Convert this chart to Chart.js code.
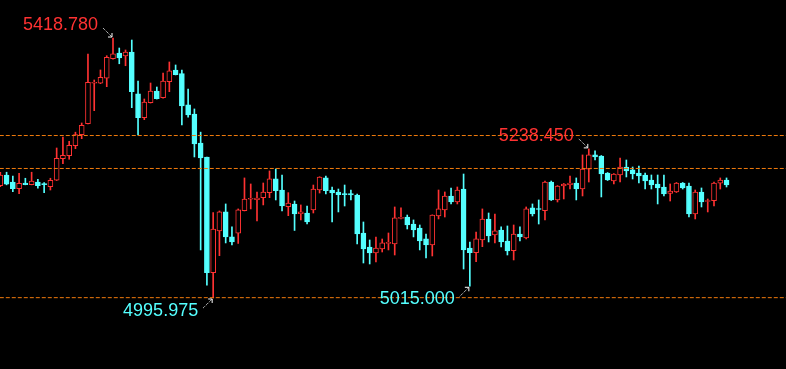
<!DOCTYPE html>
<html>
<head>
<meta charset="utf-8">
<script src="https://cdn.jsdelivr.net/npm/chart.js@4.4.1/dist/chart.umd.min.js"></script>
<style>
  html, body { margin: 0; padding: 0; background: #000; }
  canvas { display: block; }
</style>
</head>
<body>
<canvas id="kline" width="786" height="369"></canvas>
<script>
const opens = [
  5178.6, 5196.0, 5184.6, 5173.8, 5183.0, 5180.3, 5184.6, 5181.4, 5177.0, 5187.4,
  5222.5, 5227.4, 5243.7, 5261.6, 5279.5, 5345.2, 5345.2, 5353.3, 5385.1, 5394.4,
  5389.5, 5396.0, 5327.8, 5289.2, 5313.6, 5332.6, 5321.7, 5347.8, 5366.8, 5360.8,
  5309.9, 5295.2, 5248.1, 5225.3, 5037.3, 5104.9, 5135.9, 5095.3, 5101.3, 5138.0,
  5156.5, 5155.9, 5159.1, 5167.3, 5189.6, 5171.6, 5144.5, 5148.9, 5133.1, 5134.2,
  5139.2, 5171.6, 5191.2, 5171.6, 5168.4, 5165.6, 5165.6, 5163.5, 5101.7, 5078.9,
  5069.2, 5075.7, 5084.7, 5083.9, 5125.4, 5127.7, 5116.3, 5109.8, 5092.0, 5082.2,
  5129.3, 5139.2, 5161.9, 5152.1, 5173.2, 5077.3, 5069.7, 5090.3, 5124.5, 5098.5,
  5106.6, 5088.7, 5072.9, 5100.1, 5093.6, 5142.4, 5141.5, 5138.0, 5184.6, 5155.4,
  5178.1, 5180.3, 5183.0, 5173.2, 5205.3, 5228.6, 5226.9, 5199.2, 5186.3, 5196.0,
  5209.0, 5204.2, 5199.2, 5196.0, 5187.9, 5181.4, 5176.5, 5166.2, 5168.4, 5183.0,
  5178.1, 5132.6, 5168.4, 5152.9, 5154.2, 5182.5, 5187.9
];
const highs = [
  5200.5, 5200.5, 5194.4, 5198.8, 5190.7, 5200.5, 5189.0, 5183.5, 5190.7, 5239.9,
  5257.8, 5250.8, 5265.6, 5280.6, 5392.8, 5350.5, 5366.8, 5390.0, 5418.78, 5402.5,
  5399.3, 5415.5, 5348.9, 5319.6, 5345.6, 5339.1, 5361.9, 5379.8, 5374.9, 5366.8,
  5335.9, 5303.4, 5265.7, 5225.3, 5134.7, 5137.5, 5148.9, 5111.5, 5140.8, 5191.2,
  5181.4, 5168.4, 5183.0, 5202.6, 5205.8, 5196.0, 5167.3, 5153.7, 5147.3, 5145.6,
  5179.7, 5193.2, 5194.4, 5176.5, 5173.2, 5179.7, 5171.6, 5165.1, 5119.6, 5090.3,
  5095.1, 5091.9, 5101.7, 5144.0, 5142.4, 5130.9, 5122.9, 5114.7, 5100.1, 5131.2,
  5171.6, 5168.4, 5174.9, 5176.5, 5197.6, 5087.1, 5103.3, 5140.8, 5134.2, 5132.6,
  5111.5, 5113.1, 5114.7, 5111.5, 5144.0, 5148.9, 5155.4, 5186.2, 5186.2, 5178.9,
  5182.2, 5194.4, 5191.2, 5228.6, 5238.45, 5235.1, 5227.7, 5200.0, 5198.4, 5223.7,
  5220.4, 5209.0, 5210.6, 5199.2, 5196.0, 5196.0, 5196.0, 5181.4, 5183.8, 5183.8,
  5183.0, 5171.6, 5174.9, 5157.0, 5184.6, 5191.2, 5191.2
];
const lows = [
  5177.0, 5180.0, 5168.8, 5165.6, 5180.0, 5180.0, 5174.4, 5167.2, 5171.6, 5187.0,
  5214.4, 5221.6, 5238.8, 5255.1, 5279.0, 5300.6, 5344.5, 5339.6, 5384.5, 5376.9,
  5373.7, 5305.5, 5261.1, 5286.0, 5313.0, 5319.5, 5321.0, 5331.5, 5358.7, 5277.3,
  5289.9, 5225.3, 5074.1, 5017.0, 4995.975, 5064.8, 5085.5, 5082.3, 5084.7, 5137.5,
  5140.8, 5121.3, 5147.3, 5159.1, 5155.4, 5137.5, 5129.8, 5105.8, 5122.9, 5116.3,
  5134.2, 5166.7, 5165.1, 5119.6, 5135.9, 5145.6, 5155.4, 5083.9, 5052.9, 5051.3,
  5054.5, 5070.8, 5074.1, 5065.9, 5124.5, 5108.2, 5095.3, 5074.1, 5061.0, 5064.3,
  5124.5, 5127.7, 5148.9, 5148.9, 5043.1, 5015.0, 5055.0, 5079.4, 5087.1, 5085.5,
  5078.9, 5065.9, 5057.8, 5088.7, 5092.0, 5129.3, 5116.3, 5122.9, 5154.5, 5152.1,
  5157.0, 5173.2, 5155.4, 5161.9, 5184.6, 5220.4, 5160.3, 5187.0, 5181.4, 5184.6,
  5192.8, 5189.5, 5183.0, 5173.2, 5173.2, 5148.9, 5161.9, 5153.7, 5167.5, 5173.2,
  5127.7, 5124.5, 5144.0, 5135.9, 5145.6, 5173.2, 5176.5
];
const closes = [
  5196.0, 5180.9, 5173.8, 5182.5, 5180.3, 5186.3, 5178.6, 5180.3, 5187.4, 5223.2,
  5228.1, 5244.3, 5261.6, 5276.9, 5346.8, 5346.8, 5354.9, 5387.4, 5393.2, 5386.2,
  5396.0, 5331.5, 5289.2, 5314.7, 5332.6, 5320.1, 5348.9, 5365.2, 5359.3, 5308.2,
  5293.6, 5246.4, 5223.7, 5037.3, 5108.2, 5135.9, 5095.3, 5087.2, 5139.2, 5157.0,
  5157.5, 5158.6, 5168.4, 5189.6, 5170.5, 5145.6, 5150.5, 5132.6, 5135.9, 5119.6,
  5173.2, 5192.8, 5170.5, 5166.7, 5164.0, 5164.0, 5163.5, 5100.1, 5075.7, 5069.2,
  5077.3, 5085.5, 5086.3, 5126.2, 5127.0, 5114.7, 5106.6, 5088.7, 5082.2, 5130.9,
  5140.8, 5161.9, 5152.1, 5171.6, 5074.1, 5069.7, 5092.0, 5124.5, 5096.9, 5105.0,
  5087.1, 5072.4, 5100.1, 5095.3, 5140.8, 5132.6, 5139.9, 5184.6, 5155.4, 5178.1,
  5181.4, 5183.0, 5173.2, 5205.8, 5228.6, 5225.3, 5197.6, 5187.9, 5197.6, 5209.0,
  5202.5, 5197.6, 5194.4, 5186.3, 5179.7, 5174.9, 5165.1, 5170.0, 5183.0, 5174.9,
  5132.6, 5168.4, 5152.1, 5154.5, 5183.0, 5187.9, 5179.7
];

// horizontal price levels (dashed)
const levels = [5260.2, 5206.6, 4996.5];

// candles that carry a price label
const highMarks = [18, 94];
const lowMarks = [34, 75];

const UP = "#ff3232";
const DOWN = "#54ffff";
const LEVEL = "#f07a0c";

const isUp = closes.map((c, i) => c >= opens[i]);

const wicks = lows.map((l, i) => ({ x: i, y: [l, highs[i]] }));
const bodies = opens.map((o, i) => ({ x: i, y: [o, closes[i]] }));

const levelSets = levels.map((lv) => ({
  type: "line",
  data: [{ x: -2, y: lv }, { x: 130, y: lv }],
  borderColor: LEVEL,
  borderWidth: 1,
  borderDash: [4, 2],
  pointRadius: 0,
  order: 0,
}));

const markPlugin = {
  id: "priceMarks",
  afterDatasetsDraw(chart) {
    const { ctx, scales } = chart;
    const xs = scales.x;
    const ys = scales.y;
    ctx.save();
    ctx.font = '18px "Liberation Sans", Arial, sans-serif';
    ctx.textAlign = "right";
    ctx.textBaseline = "middle";

    const draw = (i, value, color, dir) => {
      const px = xs.getPixelForValue(i);
      const py = ys.getPixelForValue(value);
      ctx.fillStyle = color;
      ctx.fillText(value.toFixed(3), px - 15, py + dir * 13);

      const sx = px - 10, sy = py + dir * 10;
      const tx = px - 1, ty = py + dir * 1;
      ctx.strokeStyle = "#ffffff";
      ctx.lineWidth = 1;
      ctx.setLineDash([1, 1]);
      ctx.beginPath();
      ctx.moveTo(sx, sy);
      ctx.lineTo(tx, ty);
      ctx.stroke();
      ctx.setLineDash([]);
      ctx.beginPath();
      ctx.moveTo(tx - 4, ty);
      ctx.lineTo(tx, ty);
      ctx.lineTo(tx, ty + dir * 4);
      ctx.stroke();
    };

    highMarks.forEach((i) => draw(i, highs[i], UP, -1));
    lowMarks.forEach((i) => draw(i, lows[i], DOWN, 1));
    ctx.restore();
  },
};

new Chart(document.getElementById("kline"), {
  type: "bar",
  data: {
    datasets: [
      {
        label: "wick",
        data: wicks,
        backgroundColor: isUp.map((u) => (u ? UP : DOWN)),
        borderWidth: 0,
        barThickness: 1,
        grouped: false,
        order: 2,
      },
      {
        label: "body",
        data: bodies,
        backgroundColor: isUp.map((u) => (u ? "#000000" : DOWN)),
        borderColor: isUp.map((u) => (u ? UP : DOWN)),
        borderWidth: 1,
        borderSkipped: false,
        barThickness: 5,
        minBarLength: 1,
        grouped: false,
        order: 1,
      },
      ...levelSets,
    ],
  },
  options: {
    responsive: false,
    animation: false,
    layout: { padding: 0 },
    scales: {
      x: { type: "linear", offset: false, min: -0.05, max: 125.5, display: false },
      y: { min: 4880.5, max: 5480.58, display: false },
    },
    plugins: {
      legend: { display: false },
      tooltip: { enabled: false },
    },
  },
  plugins: [markPlugin],
});
</script>
</body>
</html>
